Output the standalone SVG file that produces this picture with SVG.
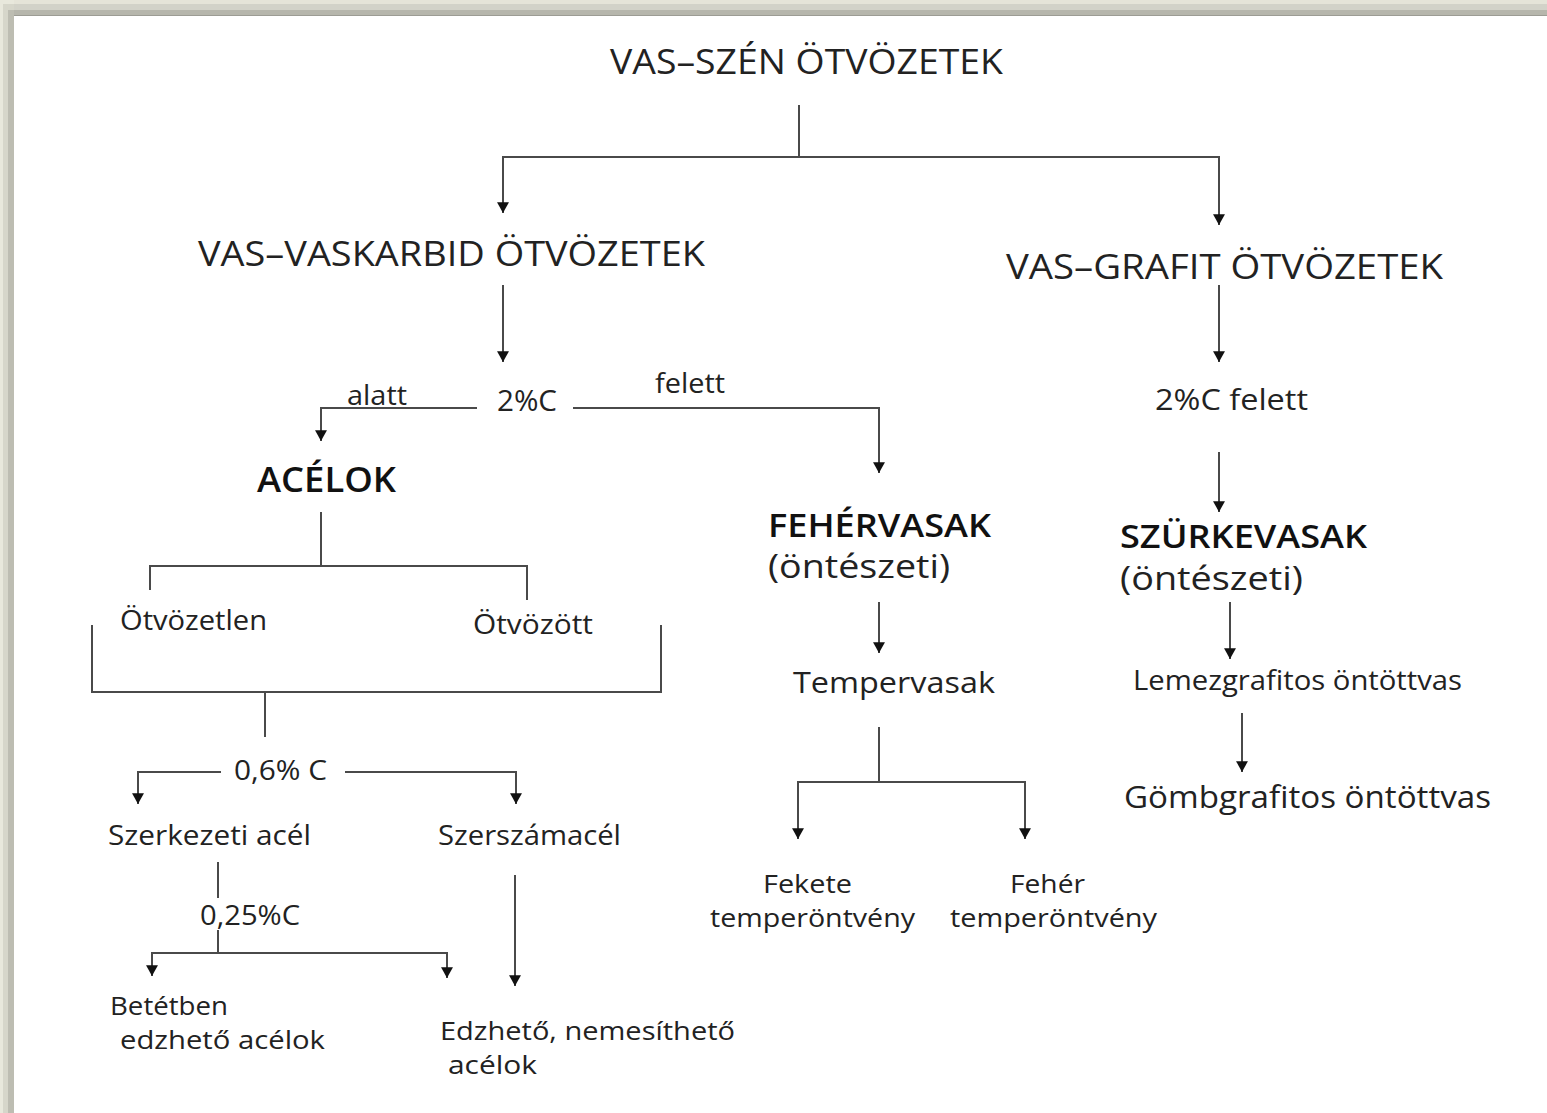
<svg xmlns="http://www.w3.org/2000/svg" width="1547" height="1113" viewBox="0 0 1547 1113">
<style>
.t{font-family:"Open Sans","Noto Sans","DejaVu Sans",sans-serif;fill:#222;}
.b{font-weight:600;fill:#111;}
.c{fill:none;stroke:#4a4a4a;stroke-width:2;}
</style>
<defs>
<marker id="ah" markerUnits="userSpaceOnUse" markerWidth="13" markerHeight="13" refX="11" refY="6" orient="auto" viewBox="0 0 12 12">
<path d="M1,0.5 L11,6 L1,11.5 Z" fill="#111"/>
</marker>
</defs>
<rect x="0" y="0" width="1547" height="1113" fill="#ffffff"/>
<g id="frame">
<rect x="0" y="0" width="1547" height="16" fill="#e5e4d8"/>
<rect x="0" y="4" width="1547" height="12" fill="#d2d2c8"/>
<rect x="0" y="10" width="1547" height="6" fill="#b6b6ac"/>
<rect x="0" y="15" width="1547" height="1" fill="#9c9c94"/>
<rect x="0" y="0" width="14" height="1113" fill="#e8e8dc"/>
<rect x="3" y="4" width="11" height="1109" fill="#d6d6ca"/>
<rect x="8" y="10" width="6" height="1103" fill="#bdbdb2"/>
</g>
<g id="connectors">
<path class="c" d="M799,105 V157"/>
<path class="c" d="M799,157 H503 V213" marker-end="url(#ah)"/>
<path class="c" d="M799,157 H1219 V225" marker-end="url(#ah)"/>
<path class="c" d="M503,285 V362" marker-end="url(#ah)"/>
<path class="c" d="M477,408 H321 V441" marker-end="url(#ah)"/>
<path class="c" d="M573,408 H879 V473" marker-end="url(#ah)"/>
<path class="c" d="M1219,285 V362" marker-end="url(#ah)"/>
<path class="c" d="M1219,452 V512" marker-end="url(#ah)"/>
<path class="c" d="M1230,602 V659" marker-end="url(#ah)"/>
<path class="c" d="M1242,713 V772" marker-end="url(#ah)"/>
<path class="c" d="M321,512 V566"/>
<path class="c" d="M150,590 V566 H527 V600"/>
<path class="c" d="M92,625 V692 H661 V625"/>
<path class="c" d="M265,692 V737"/>
<path class="c" d="M221,772 H138 V804" marker-end="url(#ah)"/>
<path class="c" d="M345,772 H516 V804" marker-end="url(#ah)"/>
<path class="c" d="M218,862 V898"/>
<path class="c" d="M218,930 V953"/>
<path class="c" d="M218,953 H152 V976" marker-end="url(#ah)"/>
<path class="c" d="M218,953 H447 V978" marker-end="url(#ah)"/>
<path class="c" d="M515,875 V986" marker-end="url(#ah)"/>
<path class="c" d="M879,602 V653" marker-end="url(#ah)"/>
<path class="c" d="M879,727 V782"/>
<path class="c" d="M879,782 H798 V839" marker-end="url(#ah)"/>
<path class="c" d="M879,782 H1025 V839" marker-end="url(#ah)"/>
</g>
<g id="n-root"><text class="t" x="610" y="74" font-size="35" textLength="393" lengthAdjust="spacingAndGlyphs">VAS–SZÉN ÖTVÖZETEK</text></g>
<g id="n-vaskarbid"><text class="t" x="198" y="266" font-size="35" textLength="507" lengthAdjust="spacingAndGlyphs">VAS–VASKARBID ÖTVÖZETEK</text></g>
<g id="n-grafit"><text class="t" x="1006" y="279" font-size="35" textLength="437" lengthAdjust="spacingAndGlyphs">VAS–GRAFIT ÖTVÖZETEK</text></g>
<g id="n-2c"><text class="t" x="497" y="411" font-size="30" textLength="60" lengthAdjust="spacingAndGlyphs">2%C</text></g>
<g id="l-alatt"><text class="t" x="347" y="405" font-size="28" textLength="60" lengthAdjust="spacingAndGlyphs">alatt</text></g>
<g id="l-felett"><text class="t" x="655" y="393" font-size="28" textLength="70" lengthAdjust="spacingAndGlyphs">felett</text></g>
<g id="n-2c-felett"><text class="t" x="1155" y="410" font-size="30" textLength="153" lengthAdjust="spacingAndGlyphs">2%C felett</text></g>
<g id="n-acelok"><text class="t b" x="257" y="492" font-size="35" textLength="139" lengthAdjust="spacingAndGlyphs">ACÉLOK</text></g>
<g id="n-fehervasak">
<text class="t b" x="768" y="537" font-size="32" textLength="223" lengthAdjust="spacingAndGlyphs">FEHÉRVASAK</text>
<text class="t" x="768" y="578" font-size="32" textLength="182" lengthAdjust="spacingAndGlyphs">(öntészeti)</text>
</g>
<g id="n-szurkevasak">
<text class="t b" x="1120" y="548" font-size="32" textLength="247" lengthAdjust="spacingAndGlyphs">SZÜRKEVASAK</text>
<text class="t" x="1120" y="590" font-size="32" textLength="183" lengthAdjust="spacingAndGlyphs">(öntészeti)</text>
</g>
<g id="n-otvozetlen"><text class="t" x="120" y="630" font-size="28" textLength="147" lengthAdjust="spacingAndGlyphs">Ötvözetlen</text></g>
<g id="n-otvozott"><text class="t" x="473" y="634" font-size="28" textLength="120" lengthAdjust="spacingAndGlyphs">Ötvözött</text></g>
<g id="n-tempervasak"><text class="t" x="793" y="693" font-size="30" textLength="202" lengthAdjust="spacingAndGlyphs">Tempervasak</text></g>
<g id="n-lemez"><text class="t" x="1133" y="690" font-size="27" textLength="329" lengthAdjust="spacingAndGlyphs">Lemezgrafitos öntöttvas</text></g>
<g id="n-gomb"><text class="t" x="1124" y="808" font-size="31" textLength="367" lengthAdjust="spacingAndGlyphs">Gömbgrafitos öntöttvas</text></g>
<g id="n-06c"><text class="t" x="234" y="780" font-size="28" textLength="93" lengthAdjust="spacingAndGlyphs">0,6% C</text></g>
<g id="n-szerkezeti"><text class="t" x="108" y="845" font-size="28" textLength="203" lengthAdjust="spacingAndGlyphs">Szerkezeti acél</text></g>
<g id="n-szerszam"><text class="t" x="438" y="845" font-size="28" textLength="183" lengthAdjust="spacingAndGlyphs">Szerszámacél</text></g>
<g id="n-025c"><text class="t" x="200" y="925" font-size="28" textLength="100" lengthAdjust="spacingAndGlyphs">0,25%C</text></g>
<g id="n-betetben">
<text class="t" x="110" y="1015" font-size="26" textLength="118" lengthAdjust="spacingAndGlyphs">Betétben</text>
<text class="t" x="120" y="1049" font-size="26" textLength="205" lengthAdjust="spacingAndGlyphs">edzhető acélok</text>
</g>
<g id="n-edzheto">
<text class="t" x="440" y="1040" font-size="25" textLength="295" lengthAdjust="spacingAndGlyphs">Edzhető, nemesíthető</text>
<text class="t" x="448" y="1074" font-size="25" textLength="89" lengthAdjust="spacingAndGlyphs">acélok</text>
</g>
<g id="n-fekete">
<text class="t" x="763" y="893" font-size="26" textLength="89" lengthAdjust="spacingAndGlyphs">Fekete</text>
<text class="t" x="710" y="927" font-size="26" textLength="205" lengthAdjust="spacingAndGlyphs">temperöntvény</text>
</g>
<g id="n-feher">
<text class="t" x="1010" y="893" font-size="26" textLength="75" lengthAdjust="spacingAndGlyphs">Fehér</text>
<text class="t" x="950" y="927" font-size="26" textLength="207" lengthAdjust="spacingAndGlyphs">temperöntvény</text>
</g>
</svg>
